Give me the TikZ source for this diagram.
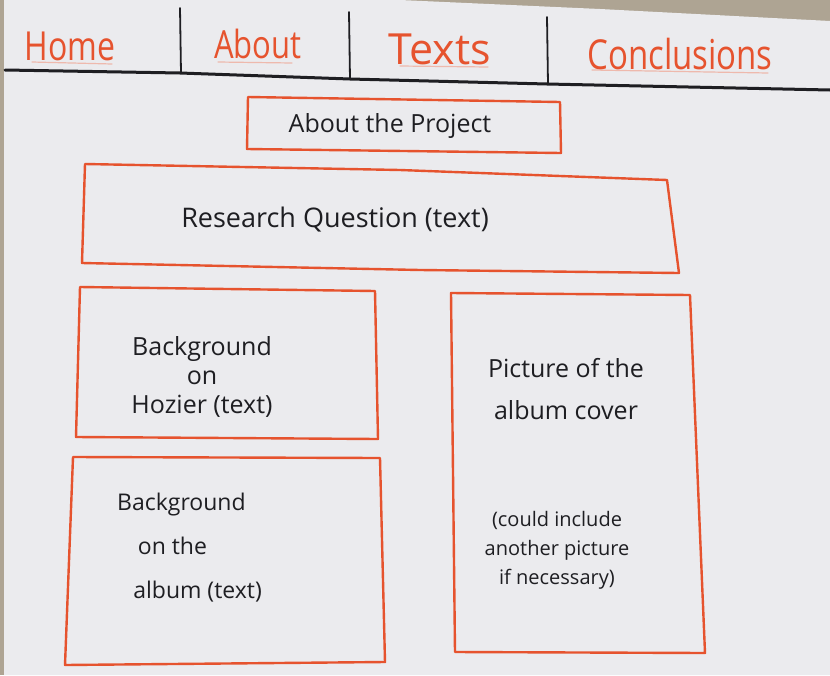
\documentclass[tikz,border=0pt]{standalone}
\usepackage{graphicx}
\usepackage{fontspec}
\setmainfont{Open Sans}
\newcommand{\tallnav}[1]{\scalebox{1}[1.25]{#1}}
\begin{document}
\begin{tikzpicture}[x=1pt,y=-1pt,
  pen/.style={draw=penred,line width=2.4pt,line join=round,line cap=round},
  ink/.style={draw=inkblack,line width=1.8pt,line cap=round},
  navtext/.style={text=penred,inner sep=0pt},
  hand/.style={text=inkblack,inner sep=0pt,align=center},
  uline/.style={draw=penred!60,line width=1.2pt,opacity=0.6,line cap=round}]
\definecolor{penred}{HTML}{E6532E}
\definecolor{inkblack}{HTML}{1E1E22}
\definecolor{paper}{HTML}{EBEBEE}
\definecolor{stone}{HTML}{AEA493}
% backdrop and sheet
\fill[stone] (0,0) rectangle (830,675);
\useasboundingbox (0,0) rectangle (830,675);
\fill[paper] (4,0) -- (400,0) -- (600,9) -- (830,21) -- (830,675) -- (4,675) -- cycle;
% navigation bar
\draw[inkblack,line width=3pt,line cap=round] (5,70) -- (180,73) -- (350,79) -- (547,84) -- (830,90);
\draw[ink] (180,8) -- (181,73);
\draw[ink] (349,12) -- (350,79);
\draw[ink] (547,17) -- (548,84);
\node[navtext,font=\fontsize{32}{32}\selectfont] (home) at (70,46) {\tallnav{Home}};
\node[navtext,font=\fontsize{31}{32}\selectfont] (about) at (258,44) {\tallnav{About}};
\node[navtext,font=\fontsize{33}{34}\selectfont] (texts) at (440,49) {\scalebox{1.3}[1.3]{Texts}};
\node[navtext,font=\fontsize{33}{34}\selectfont] (concl) at (680,54) {\tallnav{Conclusions}};
\draw[uline] (32,62) -- (112,64);
\draw[uline] (218,62) -- (292,63);
\draw[uline] (400,66) -- (488,67);
\draw[uline] (592,70) -- (768,73);
% page sections
\draw[pen] (248,97) -- (560,102) -- (561,153) -- (247,149) -- cycle;
\node[hand,font=\fontsize{25}{28}\selectfont] (proj) at (390,126) {About the Project};
\draw[pen] (85,164) -- (400,170) -- (667,180) -- (679,273) -- (420,270) -- (82,263) -- cycle;
\node[hand,font=\fontsize{27}{30}\selectfont] (rq) at (335,220) {Research Question (text)};
\draw[pen] (80,287) -- (375,291) -- (378,439) -- (76,437) -- cycle;
\node[hand,font=\fontsize{25}{29}\selectfont] (hoz) at (202,377) {Background\\on\\Hozier (text)};
\draw[pen] (73,457) -- (380,458) -- (385,662) -- (65,665) -- cycle;
\node[hand,align=left,anchor=north west,font=\fontsize{23}{44}\selectfont] (alb) at (117,493) {Background\\\hspace{0.9em}on the\\\hspace{0.7em}album (text)};
\draw[pen] (451,293) -- (690,295) -- (705,653) -- (455,652) -- cycle;
\node[hand,font=\fontsize{25}{42}\selectfont] (pic) at (566,389) {Picture of the\\album cover};
\node[hand,font=\fontsize{20}{29}\selectfont] (note) at (557,550) {(could include\\another picture\\if necessary)};
\end{tikzpicture}
\end{document}
